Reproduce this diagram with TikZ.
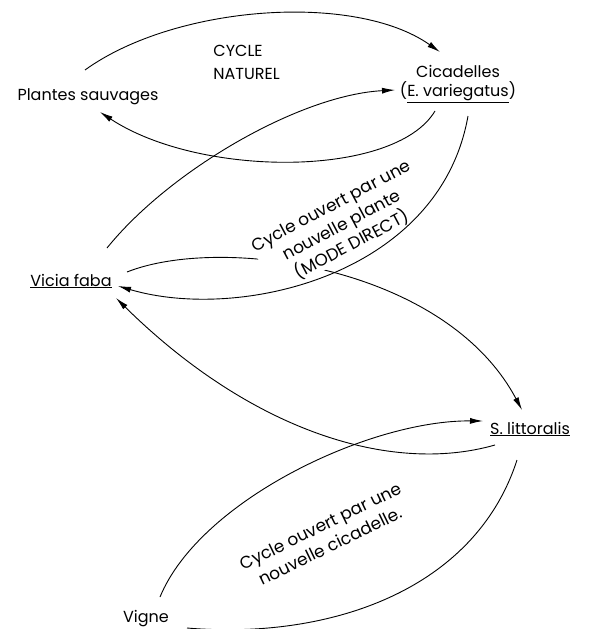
\documentclass[tikz,border=0pt]{standalone}
\usepackage{fontspec}
\setmainfont{Poppins}
\usepackage{tikz}
\usetikzlibrary{calc,arrows.meta}
\tikzset{lbl/.style={font=\fontsize{16}{19}\selectfont, inner sep=0pt},
         fl/.style={-{Latex[length=13pt,width=6pt]}},
         cyc/.style={font=\fontsize{17}{22}\selectfont, align=center, inner sep=1pt}}

\begin{document}
\begin{tikzpicture}[x=1pt,y=-1pt,line width=0.9pt]
\useasboundingbox (0,0) rectangle (591,629);
\node[lbl] (ps) at (88,97) {Plantes sauvages};
\node[lbl, align=left, anchor=west] (cn) at (213,62) {CYCLE\\[4pt]NATUREL};
\node[lbl, align=center] (cic) at (458,84) {Cicadelles\\(\underline{E. variegatus})};
\node[lbl] (vf) at (71,281) {\underline{Vicia faba}};
\node[lbl] (sl) at (530,429) {\underline{S. littoralis}};
\node[lbl] (vg) at (146,619) {Vigne};
% cycle naturel
\draw[fl] ($(ps)+(-3,-27)$) .. controls +(90,-65) and +(-85,-60) .. ($(cic)+(-18,-32)$);
\draw[fl] ($(cic)+(-23,27)$) .. controls +(-40,67) and +(100,66) .. ($(ps)+(12,15)$);
% mode direct
\draw[fl] ($(vf)+(56,-9)$) .. controls +(93,-37) and +(-77,-145) .. ($(sl)+(-8,-19)$);
\node[cyc, fill=white, rotate=28] (md) at (342,226) {Cycle ouvert par une\\nouvelle plante\\(MODE DIRECT)};
\draw[fl] ($(vf)+(36,-33)$) .. controls +(63,-78) and +(-95,5) .. ($(cic)+(-63,6)$);
\draw[fl] ($(cic)+(10,32)$) .. controls +(-28,159) and +(122,36) .. ($(vf)+(47,5)$);
\draw[fl] ($(sl)+(-35,16)$) .. controls +(-105,30) and +(134,132) .. ($(vf)+(45,17)$);
% nouvelle cicadelle
\draw[fl] ($(vg)+(14,-22)$) .. controls +(40,-97) and +(-113,-1) .. ($(sl)+(-47,-8)$);
\draw ($(sl)+(-13,31)$) .. controls +(-42,130) and +(143,12) .. ($(vg)+(41,9)$);
\node[cyc, rotate=26] (nc) at (325,536) {Cycle ouvert par une\\nouvelle cicadelle.};
\end{tikzpicture}
\end{document}
